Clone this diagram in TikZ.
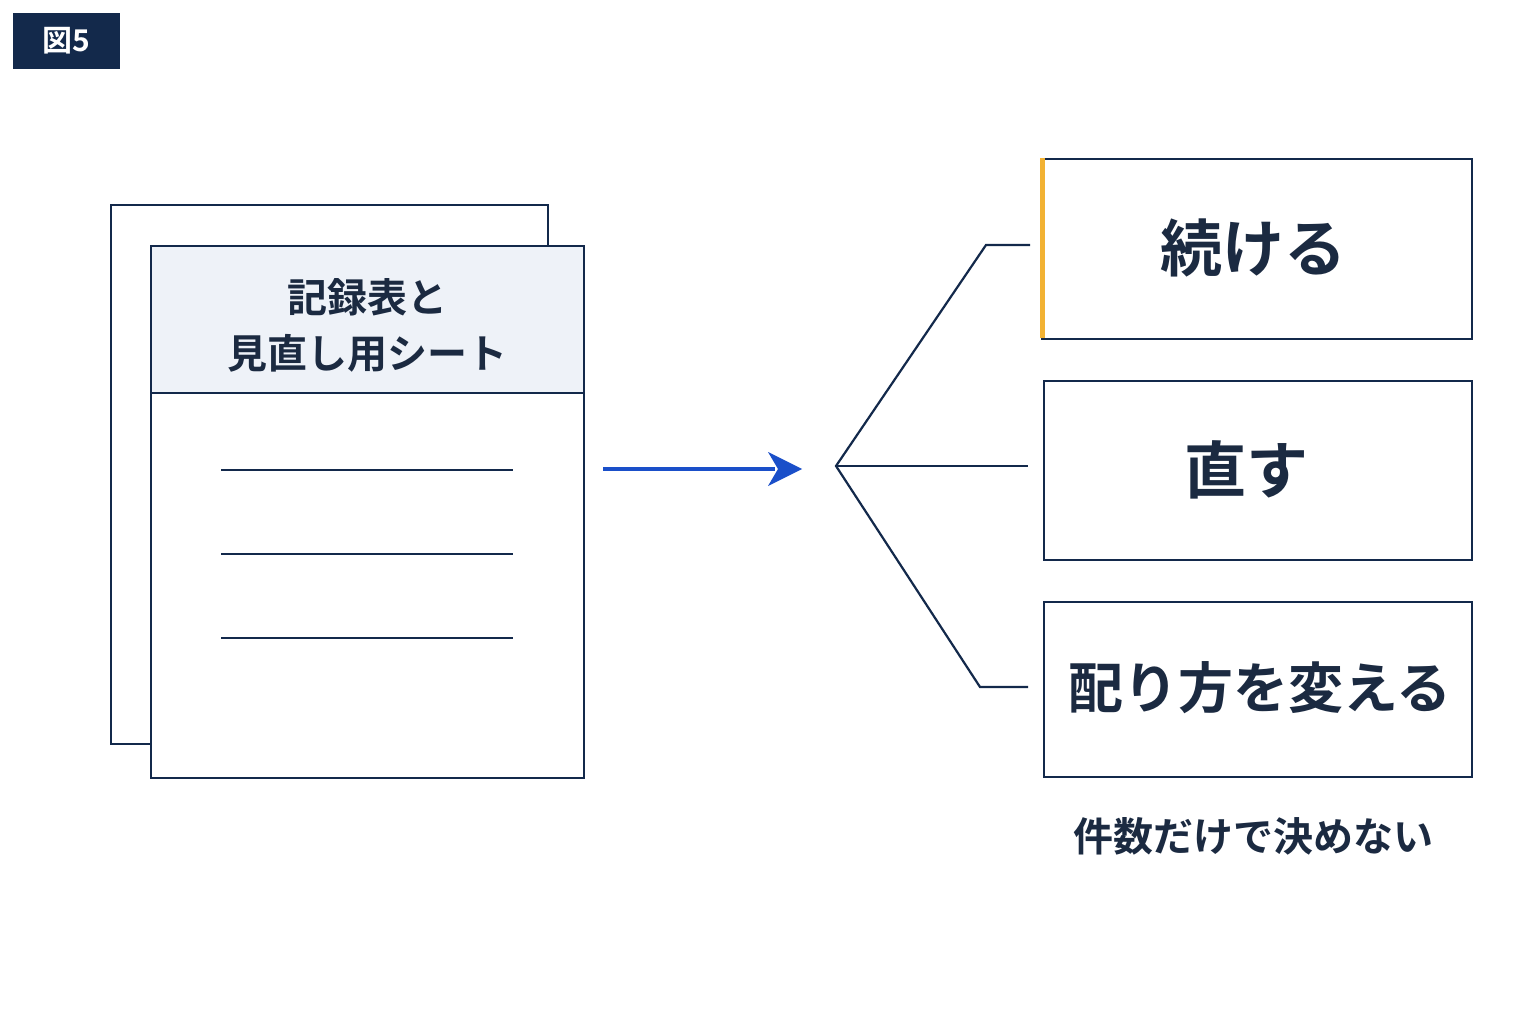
\documentclass[tikz,border=0pt]{standalone}
\usepackage{fontspec}
\newfontfamily\cjk{Noto Sans CJK JP}[BoldFont={* Bold}]
\definecolor{navy}{HTML}{13294B}
\definecolor{ink}{HTML}{1B2A41}
\definecolor{head}{HTML}{EEF2F8}
\definecolor{arrowblue}{HTML}{1A4FC9}
\definecolor{gold}{HTML}{F2B233}
\begin{document}
\begin{tikzpicture}[x=1pt,y=-1pt,
  ln/.style={draw=navy,line width=2.2pt},
  txt/.style={text=ink,font=\cjk\bfseries,inner sep=0pt}]
\useasboundingbox[fill=white] (0,0) rectangle (1536,1024);
\node[fill=navy,minimum width=107pt,minimum height=56pt,anchor=north west,text=white,font=\cjk\bfseries\fontsize{30}{30}\selectfont] (tag) at (13,13) {図5};
% pages
\draw[ln,fill=white] (111,205) rectangle (548,744);
\fill[white] (151,246) rectangle (584,778);
\fill[head] (151,246) rectangle (584,393);
\draw[ln] (151,246) rectangle (584,778);
\draw[draw=navy,line width=1.2pt] (151,393) -- (584,393);
\node[txt,font=\cjk\bfseries\fontsize{40}{40}\selectfont] (t1) at (367,297) {記録表と};
\node[txt,font=\cjk\bfseries\fontsize{40}{40}\selectfont] (t2) at (367,353) {見直し用シート};
\foreach \yy in {470,554,638} \draw[ln] (221,\yy) -- (513,\yy);
% arrow
\coordinate (a0) at (603,469); \coordinate (a1) at (802,469);
\draw[arrowblue,line width=4.5pt] (a0) -- (775,469);
\fill[arrowblue] (802,469) -- (768,452) -- (778,469) -- (768,486) -- cycle;
% boxes
\node[ln,minimum width=430pt,minimum height=180pt,anchor=north west] (b1) at (1041,158) {};
\node[ln,minimum width=428pt,minimum height=179pt,anchor=north west] (b2) at (1043,380) {};
\node[ln,minimum width=428pt,minimum height=175pt,anchor=north west] (b3) at (1043,601) {};
\draw[gold,line width=5pt] (1042,158) -- (1042,338);
\node[txt,font=\cjk\bfseries\fontsize{62}{62}\selectfont] at (1253,248) {続ける};
\node[txt,font=\cjk\bfseries\fontsize{62}{62}\selectfont] at (1246,470) {直す};
\node[txt,font=\cjk\bfseries\fontsize{55}{55}\selectfont] at (1260,688) {配り方を変える};
\node[txt,font=\cjk\bfseries\fontsize{40}{40}\selectfont] (note) at (1253,836) {件数だけで決めない};
% branches
\coordinate (hub) at (836,466);
\draw[ln,line join=miter] (1030,245) -- (986,245) -- (hub) -- (980,687) -- (1028,687);
\draw[ln] (hub) -- (1028,466);
\end{tikzpicture}
\end{document}
